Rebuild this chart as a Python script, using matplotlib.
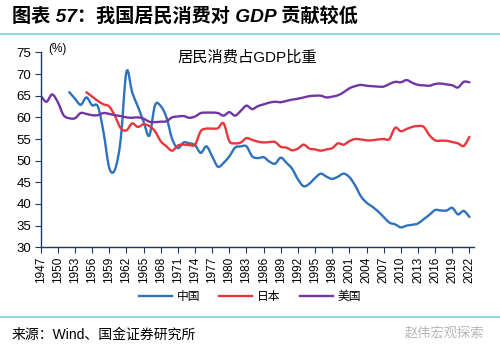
import matplotlib
matplotlib.use("Agg")
import matplotlib.pyplot as plt
from matplotlib.path import Path
from matplotlib.patches import PathPatch
from matplotlib.lines import Line2D

plt.rcParams['font.family'] = ['Liberation Sans', 'Noto Sans CJK SC', 'DejaVu Sans']

# 居民消费占GDP比重 (%)
us_years = list(range(1947, 2023))
us = [65.0, 63.6, 65.3, 63.5, 60.5, 59.8, 59.8, 61.0, 60.8, 60.5,
      60.5, 61.0, 60.8, 60.5, 60.3, 60.0, 59.9, 60.0, 59.7, 59.0,
      58.9, 59.0, 59.1, 60.0, 60.2, 60.3, 59.9, 60.2, 61.0, 61.1,
      61.1, 61.0, 60.4, 61.2, 60.4, 61.5, 62.7, 61.9, 62.6, 63.0,
      63.4, 63.6, 63.5, 63.8, 64.1, 64.3, 64.6, 64.9, 65.0, 65.0,
      64.6, 64.8, 65.1, 65.8, 66.7, 67.2, 67.5, 67.3, 67.2, 67.1,
      67.1, 67.7, 68.2, 68.1, 68.6, 68.0, 67.5, 67.4, 67.3, 67.7,
      67.8, 67.6, 67.4, 66.9, 68.2, 68.1]

jp_years = list(range(1955, 2023))
jp = [65.8, 64.8, 63.8, 63.0, 62.5, 60.3, 57.5, 57.0, 58.6, 57.8,
      58.4, 58.0, 56.8, 54.5, 53.3, 52.3, 53.5, 53.7, 53.6, 53.7,
      56.8, 57.4, 57.4, 57.5, 58.6, 54.5, 54.0, 54.2, 55.2, 54.8,
      54.4, 54.2, 54.3, 54.3, 53.2, 53.0, 52.4, 52.8, 53.7, 52.8,
      52.6, 52.3, 52.6, 52.9, 54.0, 53.7, 54.5, 55.0, 54.9, 54.7,
      54.7, 54.9, 55.0, 55.0, 57.6, 56.8, 57.3, 57.8, 58.0, 57.8,
      55.9, 54.7, 54.6, 54.6, 54.3, 54.0, 53.4, 55.5]

cn_years = list(range(1952, 2023))
cn = [65.8, 64.3, 62.9, 64.6, 62.8, 62.5, 56.5, 48.3, 48.0, 55.0,
      70.5, 65.8, 62.5, 59.0, 55.8, 62.8, 62.6, 60.0, 55.0, 52.9,
      54.2, 54.0, 53.6, 51.8, 53.3, 51.0, 48.6, 49.5, 51.0, 53.0,
      53.3, 53.3, 51.0, 50.6, 50.8, 49.8, 49.3, 50.7, 49.5, 48.1,
      45.7, 44.1, 44.7, 46.0, 47.0, 46.3, 45.8, 46.3, 47.0, 46.2,
      44.3, 41.8, 40.3, 39.4, 38.3, 37.0, 35.7, 35.3, 34.6, 35.0,
      35.2, 35.5, 36.5, 37.5, 38.6, 38.5, 38.5, 39.1, 37.6, 38.4,
      37.0]

xticks = list(range(1947, 2023, 3))
yticks = list(range(30, 80, 5))


def smooth_path(x, y):
    # Catmull-Rom style bezier, like Excel's smoothed lines
    n = len(x)
    verts = [(x[0], y[0])]
    codes = [Path.MOVETO]
    for i in range(n - 1):
        a = i - 1 if i > 0 else i
        d = i + 2 if i + 2 < n else i + 1
        c1 = (x[i] + (x[i + 1] - x[a]) / 6, y[i] + (y[i + 1] - y[a]) / 6)
        c2 = (x[i + 1] - (x[d] - x[i]) / 6, y[i + 1] - (y[d] - y[i]) / 6)
        verts += [c1, c2, (x[i + 1], y[i + 1])]
        codes += [Path.CURVE4] * 3
    return Path(verts, codes)


fig = plt.figure(figsize=(5, 3.54), dpi=100)
ax = fig.add_axes([0.0814, 0.3014, 0.8666, 0.5506])

series = [
    ("中国", cn_years, cn, "#2e72bd"),
    ("日本", jp_years, jp, "#e8373c"),
    ("美国", us_years, us, "#7136a3"),
]
handles = []
for name, xs, ys, color in series:
    ax.add_patch(PathPatch(smooth_path(xs, ys), facecolor="none",
                           edgecolor=color, lw=1.7, capstyle="round"))
    handles.append(Line2D([], [], color=color, lw=1.7, label=name))

ax.set_xlim(1947, 2022.8)
ax.set_ylim(30, 75)
ax.set_xticks(xticks)
ax.set_xticklabels([str(v) for v in xticks], rotation=90, fontsize=8.5)
ax.set_yticks(yticks)
ax.tick_params(axis="y", labelsize=9.5, length=4, color="#1f3864", pad=3)
ax.tick_params(axis="x", length=4, color="#1f3864", pad=3)
for s in ["top", "right"]:
    ax.spines[s].set_visible(False)
for s in ["left", "bottom"]:
    ax.spines[s].set_color("#1f3864")
    ax.spines[s].set_linewidth(1.0)

ax.text(0.017, 1.017, "(%)", transform=ax.transAxes, fontsize=8.5, va="center")
ax.text(0.477, 0.976, "居民消费占GDP比重", transform=ax.transAxes, fontsize=11,
        ha="center", va="center")

fig.legend(handles=handles, loc="center", bbox_to_anchor=(0.5, 1 - 297 / 354),
           ncol=3, frameon=False, fontsize=8.5, handlelength=2.8,
           columnspacing=1.6, handletextpad=0.4)

# title, rules and source
fig.text(0.024, 1 - 17 / 354, "图表 57：我国居民消费对 GDP 贡献较低", fontsize=13.8,
         fontweight="bold", fontstyle="italic", va="center", ha="left")
fig.add_artist(Line2D([0, 1], [1 - 34 / 354] * 2, color="#7fcfe3", lw=1.2))
fig.add_artist(Line2D([0, 1], [1 - 317 / 354] * 2, color="#7fcfe3", lw=1.2))
fig.text(0.024, 1 - 335 / 354, "来源：Wind、国金证券研究所", fontsize=10,
         va="center", ha="left")
fig.text(0.968, 1 - 333 / 354, "赵伟宏观探索", fontsize=9.5, color="#b5b5b5",
         va="center", ha="right")

fig.savefig("out.png", dpi=100)
